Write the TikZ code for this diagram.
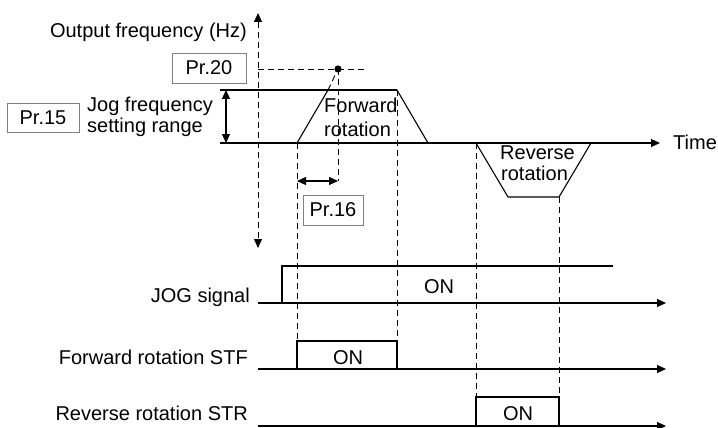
\documentclass[tikz,border=0pt]{standalone}
\usepackage{fontspec}
\setmainfont{Liberation Sans}
\usetikzlibrary{arrows.meta}
\begin{document}
\begin{tikzpicture}[x=1pt,y=-1pt,
  txt/.style={inner sep=0pt,font=\fontsize{20}{23}\selectfont},
  prbox/.style={draw=black!50,line width=0.9pt,fill=white,inner sep=0pt,font=\fontsize{20}{23}\selectfont},
  solidln/.style={line width=1.1pt,line join=miter},
  dashln/.style={line width=0.9pt,dash pattern=on 6pt off 4pt},
  tip/.style={-{Triangle[length=9pt,width=8pt]}},
  tips/.style={{Triangle[length=9pt,width=8pt]}-{Triangle[length=9pt,width=8pt]}}
]
\useasboundingbox (0,0) rectangle (718,428);

% ---------- coordinates ----------
\coordinate (axT) at (258,13);
\coordinate (axB) at (258,248);
\coordinate (p20L) at (258,69);
\coordinate (p20R) at (366,69);
\coordinate (dot) at (338,69);
\coordinate (topL) at (220,90);
\coordinate (rampTop) at (328,90);
\coordinate (fwdTopR) at (397,90);
\coordinate (baseL) at (220,143);
\coordinate (baseR) at (660,143);
\coordinate (rampBot) at (297,143);
\coordinate (fwdBotR) at (428,143);
\coordinate (revA) at (476,143);
\coordinate (revB) at (508,197);
\coordinate (revC) at (559,197);
\coordinate (revD) at (591,143);
\coordinate (rngT) at (226,90);
\coordinate (rngB) at (226,143);
\coordinate (p16L) at (297,181);
\coordinate (p16R) at (338,181);
% signals
\coordinate (jogL) at (258,303);
\coordinate (jogR) at (666,303);
\coordinate (jogUp0) at (282,303);
\coordinate (jogUp1) at (282,266);
\coordinate (jogEnd) at (613,266);
\coordinate (stfL) at (258,369);
\coordinate (stfR) at (666,369);
\coordinate (stf0) at (297,369);
\coordinate (stf1) at (297,341);
\coordinate (stf2) at (397,341);
\coordinate (stf3) at (397,369);
\coordinate (strL) at (258,426);
\coordinate (strR) at (666,426);
\coordinate (str0) at (476,426);
\coordinate (str1) at (476,397);
\coordinate (str2) at (559,397);
\coordinate (str3) at (559,426);

% ---------- dashed lines ----------
\draw[dashln,tips] (axT) -- (axB);
\draw[dashln] (p20L) -- (p20R);
\draw[dashln] (rampTop) -- (dot);
\draw[dashln] (dot) -- (p16R);
\draw[dashln] (rampBot) -- (stf1);
\draw[dashln] (fwdTopR) -- (stf2);
\draw[dashln] (revA) -- (str1);
\draw[dashln] (revC) -- (str2);

% ---------- frequency graph ----------
\draw[solidln] (topL) -- (fwdTopR);
\draw[solidln,tip] (baseL) -- (baseR);
\draw[solidln] (rampBot) -- (rampTop);
\draw[solidln] (fwdTopR) -- (fwdBotR);
\draw[solidln] (revA) -- (revB) -- (revC) -- (revD);
\draw[solidln,tips] (rngT) -- (rngB);
\draw[solidln,tips] (p16L) -- (p16R);
\fill (dot) circle (3.6);

% ---------- signals ----------
\draw[solidln,tip] (jogL) -- (jogR);
\draw[solidln] (jogUp0) -- (jogUp1) -- (jogEnd);
\draw[solidln,tip] (stfL) -- (stfR);
\draw[solidln] (stf0) -- (stf1) -- (stf2) -- (stf3);
\draw[solidln,tip] (strL) -- (strR);
\draw[solidln] (str0) -- (str1) -- (str2) -- (str3);

% ---------- boxes ----------
\node[prbox,minimum width=74pt,minimum height=30pt] (pr20) at (209,68) {Pr.20};
\node[prbox,minimum width=72pt,minimum height=29pt] (pr15) at (43,117.5) {Pr.15};
\node[prbox,minimum width=60pt,minimum height=30pt] (pr16) at (333,210) {Pr.16};

% ---------- texts ----------
\node[txt,anchor=base east] (outf) at (247,38) {Output frequency (Hz)};
\node[txt,anchor=base west] (jog1) at (87,111) {Jog frequency};
\node[txt,anchor=base west] (jog2) at (87,132) {setting range};
\node[txt,anchor=base west] (fw1) at (324,113) {Forward};
\node[txt,anchor=base west] (fw2) at (324,136) {rotation};
\node[txt,anchor=base west] (rv1) at (500,159) {Reverse};
\node[txt,anchor=base west] (rv2) at (501,180) {rotation};
\node[txt,anchor=base west] (time) at (673,149) {Time};
\node[txt,anchor=base east] (jogsig) at (250,302) {JOG signal};
\node[txt,anchor=base east] (stfsig) at (248,364) {Forward rotation STF};
\node[txt,anchor=base east] (strsig) at (248,420) {Reverse rotation STR};
\node[txt,anchor=base] (on1) at (439,293) {ON};
\node[txt,anchor=base] (on2) at (348,364) {ON};
\node[txt,anchor=base] (on3) at (518,420) {ON};
\end{tikzpicture}
\end{document}
